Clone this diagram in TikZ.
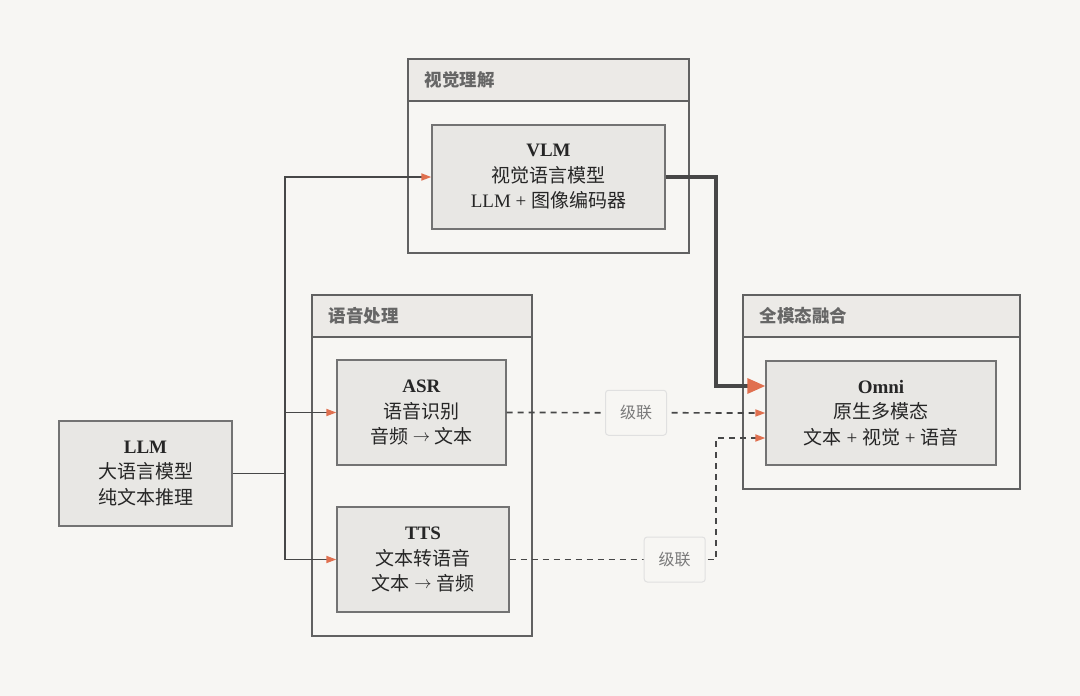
\documentclass[tikz,border=0pt]{standalone}
\usepackage{fontspec}
\setmainfont{Liberation Serif}
\newfontfamily\cjk{Noto Sans CJK SC}
\usetikzlibrary{arrows.meta}
\definecolor{paper}{HTML}{F7F6F3}
\definecolor{boxfill}{HTML}{E8E7E4}
\definecolor{headfill}{HTML}{ECEAE7}
\definecolor{edgeline}{HTML}{474747}
\definecolor{tipcol}{HTML}{E0704F}
\definecolor{labgray}{HTML}{7A7A7A}
\newcommand{\toarrow}{\raisebox{2.5pt}{$\rightarrow$}}

\begin{document}
\begin{tikzpicture}[x=1pt, y=-1pt]
    \tikzset{model/.style={draw=black!55, fill=boxfill, line width=1.3pt, align=center,
                 font=\fontsize{19}{25.5}\selectfont, text=black!85},
             group/.style={draw=black!62, fill=paper, line width=1.4pt},
             head/.style={draw=black!62, fill=headfill, line width=1.4pt, minimum height=42pt, anchor=north west},
             headtext/.style={anchor=west, text=black!60, font=\fontsize{17.5}{19}\selectfont\cjk\bfseries},
             cascade/.style={draw=black!12, solid, line width=1pt, fill=paper, rounded corners=3pt, text=labgray,
                 font=\fontsize{16}{18}\selectfont\cjk, minimum width=61pt, minimum height=45pt},
             link/.style={draw=edgeline, line width=1.7pt, -{Triangle[length=10pt, width=7pt, color=tipcol]}},
             mainlink/.style={draw=edgeline, line width=3.2pt, -{Triangle[length=18pt, width=15pt, color=tipcol]}},
             cascadelink/.style={link, dash pattern=on 6pt off 5pt}}
    \fill[paper] (0,0) rectangle (1080,696);
    \useasboundingbox (0,0) rectangle (1080,696);

    % groups
    \node[group, minimum width=281pt, minimum height=194pt] (vis) at (548.5,156) {};
    \node[head, minimum width=281pt] (vishead) at (vis.north west) {};
    \node[headtext] (vistitle) at ([xshift=14pt]vishead.west) {视觉理解};
    \node[group, minimum width=220pt, minimum height=341pt] (speech) at (422,465.5) {};
    \node[head, minimum width=220pt] (speechhead) at (speech.north west) {};
    \node[headtext] (speechtitle) at ([xshift=14pt]speechhead.west) {语音处理};
    \node[group, minimum width=277pt, minimum height=194pt] (omnigrp) at (881.5,392) {};
    \node[head, minimum width=277pt] (omnihead) at (omnigrp.north west) {};
    \node[headtext] (omnititle) at ([xshift=14pt]omnihead.west) {全模态融合};

    % models
    \node[model, minimum width=173pt, minimum height=105pt] (LLM) at (145.5,473.5)
        {\textbf{LLM}\\{\cjk 大语言模型}\\{\cjk 纯文本推理}};
    \node[model, minimum width=233pt, minimum height=104pt] (VLM) at (548.5,177)
        {\textbf{VLM}\\{\cjk 视觉语言模型}\\LLM + {\cjk 图像编码器}};
    \node[model, minimum width=169pt, minimum height=105pt] (ASR) at (421.5,412.5)
        {\textbf{ASR}\\{\cjk 语音识别}\\{\cjk 音频} \toarrow{} {\cjk 文本}};
    \node[model, minimum width=172pt, minimum height=105pt] (TTS) at (423,559.5)
        {\textbf{TTS}\\{\cjk 文本转语音}\\{\cjk 文本} \toarrow{} {\cjk 音频}};
    \node[model, minimum width=230pt, minimum height=104pt] (Omni) at (881,413)
        {\textbf{Omni}\\{\cjk 原生多模态}\\{\cjk 文本} + {\cjk 视觉} + {\cjk 语音}};

    % connectors
    \coordinate (split) at (285,473.5);
    \coordinate (bend) at (716,0);
    \coordinate (omniA) at ([yshift=27pt]Omni.west);
    \coordinate (omniB) at ([yshift=-25pt]Omni.west);
    \draw[edgeline, line width=1.7pt] (LLM.east) -- (split);
    \path[link] (split) |- (VLM.west);
    \path[link] (split) |- (ASR.west);
    \path[link] (split) |- (TTS.west);
    \path[mainlink] (VLM.east) -| (bend |- omniA) -- (omniA);
    \path[cascadelink] (ASR.east) -- node[cascade, midway] (cas1) {级联} (Omni.west);
    \path[cascadelink] (TTS.east) -- node[cascade, pos=0.8] (cas2) {级联} (bend |- TTS.east) |- (omniB);
\end{tikzpicture}
\end{document}
